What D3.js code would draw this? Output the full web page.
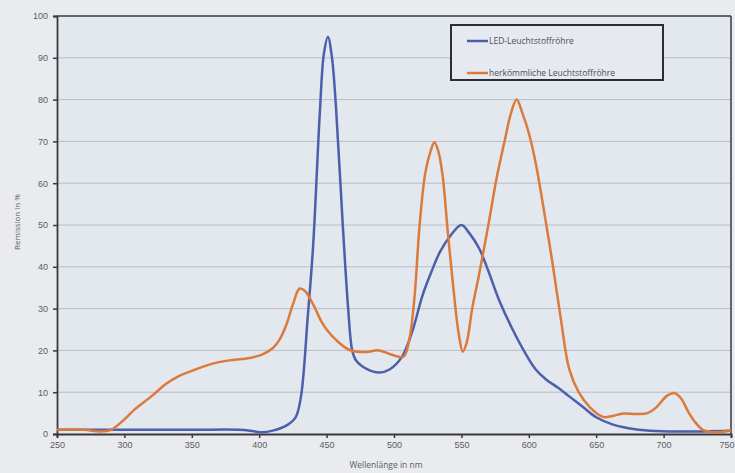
<!DOCTYPE html>
<html><head><meta charset="utf-8">
<script src="https://cdn.jsdelivr.net/npm/d3@7/dist/d3.min.js"></script>
<style>
html,body{margin:0;padding:0;background:#e9ebee;overflow:hidden;}
svg{display:block;font-family:"Open Sans","Liberation Sans",sans-serif;}
</style></head>
<body><svg id="c" width="735" height="473"></svg>
<script>
const seriesNames = ["LED-Leuchtstoffröhre", "herkömmliche Leuchtstoffröhre"];
const ledX = [250,300,350,385,395,402,410,420,427,431,436,440,445,448,451,454,457,462,466,469,472,480,489,497,506,514,521,528,534,542,550,556,563,570,578,588,598,605,613,622,630,640,650,662,674,690,711,750];
const ledY = [1,1,1,1,0.7,0.4,0.8,2,4,9,28,45,77,91,95,90,78,50,30,20,17.5,15.5,14.7,15.5,18.5,25,33,39,43.5,47.5,50,48,44.5,39,32,25,19,15.5,13,11,9,6.5,4,2.3,1.4,0.8,0.6,0.8];
const convX = [250,270,282,290,300,307,320,331,340,349,360,370,380,393,402,410,415,420,425,430,434,440,446,450,457,467,478,489,498,507,511,515,519,523,527,530,533,536,540,544,548,551,554,558,563,570,576,582,587,591,595,600,605,612,618,624,630,637,645,655,662,670,680,688,695,702,708,713,718,723,729,735,742,750];
const convY = [1,1,0.6,1,3.5,5.7,9,12,13.8,15,16.3,17.2,17.7,18.2,19,20.5,22.5,26,31,34.8,34.2,31,27,25,22.5,20.1,19.6,20,19,18.5,22,32,50,62,67.5,69.8,67.5,62,48,35,24,19.7,22,30,38,50,61,70,77,80,77,72,65,52,40,27,15.5,10,6.5,4.1,4.3,4.9,4.8,5,6.5,9,9.8,8.5,5.5,3,1,0.5,0.5,0.9];
const xTicks = [250,300,350,400,450,500,550,600,650,700,750];
const yTicks = [0,10,20,30,40,50,60,70,80,90,100];
const xTitle = "Wellenlänge in nm";
const yTitle = "Remission in %";
const colors = ["#4c5fad", "#dc7a3c"];

const svg = d3.select("#c");
const L = 57, R = 731, T = 16, B = 434;
const x = d3.scaleLinear().domain([250,750]).range([L,R]);
const y = d3.scaleLinear().domain([0,100]).range([B,T]);

// plot background
svg.append("rect").attr("x",L).attr("y",T).attr("width",R-L).attr("height",B-T).attr("fill","#e3e7ee");

// gridlines
svg.append("g").selectAll("line").data(yTicks.filter(d=>d>0 && d<100)).join("line")
  .attr("x1",L).attr("x2",R).attr("y1",d=>y(d)).attr("y2",d=>y(d))
  .attr("stroke","#b9bdc5").attr("stroke-width",1);

// frame top / right
svg.append("line").attr("x1",L).attr("x2",R).attr("y1",T).attr("y2",T).attr("stroke","#3a3a3e").attr("stroke-width",1.5);
svg.append("line").attr("x1",R).attr("x2",R).attr("y1",T).attr("y2",B).attr("stroke","#3a3a3e").attr("stroke-width",1.5);

// axes
const yAxis = svg.append("g").attr("transform",`translate(${L},0)`)
  .call(d3.axisLeft(y).tickValues(yTicks).tickSize(4).tickPadding(5));
const xAxis = svg.append("g").attr("transform",`translate(0,${B})`)
  .call(d3.axisBottom(x).tickValues(xTicks).tickSize(4).tickPadding(4));
[yAxis,xAxis].forEach(a=>{
  a.select(".domain").attr("stroke","#3a3a3e").attr("stroke-width",1.8);
  a.selectAll(".tick line").attr("stroke","#3a3a3e").attr("stroke-width",1.5);
  a.selectAll("text").attr("fill","#5a5d63").attr("font-size",9);
});
// keep the last x label inside the window
xAxis.selectAll(".tick text").filter(d=>d===750).attr("text-anchor","end").attr("dx","3");

// lines
const line = d3.line().x(d=>x(d[0])).y(d=>y(d[1])).curve(d3.curveCatmullRom.alpha(0.5));
const led = ledX.map((v,i)=>[v,ledY[i]]);
const conv = convX.map((v,i)=>[v,convY[i]]);
svg.append("path").datum(led).attr("d",line).attr("fill","none").attr("stroke",colors[0]).attr("stroke-width",2.5).attr("stroke-linejoin","round");
svg.append("path").datum(conv).attr("d",line).attr("fill","none").attr("stroke",colors[1]).attr("stroke-width",2.5).attr("stroke-linejoin","round");

// titles
svg.append("text").attr("x",386).attr("y",468).attr("text-anchor","middle").attr("font-size",8.5).attr("fill","#5a5d63").text(xTitle);
svg.append("text").attr("transform","translate(20,222) rotate(-90)").attr("text-anchor","middle").attr("font-size",8).attr("fill","#5a5d63").text(yTitle);

// legend
const lg = svg.append("g");
lg.append("rect").attr("x",451).attr("y",25).attr("width",212).attr("height",55).attr("fill","#e6e9ef").attr("stroke","#2e2e32").attr("stroke-width",2);
seriesNames.forEach((n,i)=>{
  const yy = 41 + i*32;
  lg.append("line").attr("x1",467).attr("x2",488).attr("y1",yy).attr("y2",yy).attr("stroke",colors[i]).attr("stroke-width",2.5);
  lg.append("text").attr("x",489).attr("y",yy+3).attr("font-size",8.5).attr("fill","#4d5056").text(n);
});
</script></body></html>
